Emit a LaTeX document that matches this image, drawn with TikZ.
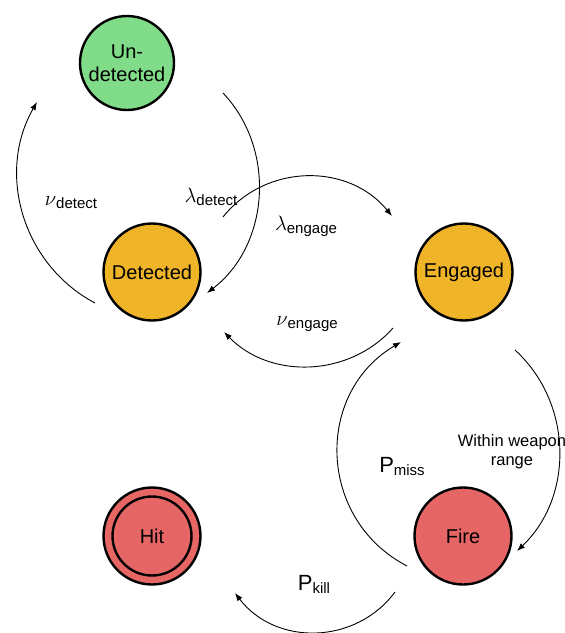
\documentclass[tikz,border=0pt]{standalone}
\usepackage{fontspec}
\setmainfont{Liberation Sans}
\usetikzlibrary{arrows.meta,positioning}

\definecolor{undgreen}{RGB}{128,220,136}
\definecolor{detorange}{RGB}{240,180,40}
\definecolor{firered}{RGB}{230,102,102}

\newcommand{\rate}[2]{{\fontsize{22}{26}\selectfont#1}\raisebox{-3pt}{\fontsize{15}{18}\selectfont#2}}

\begin{document}
\begin{tikzpicture}[x=1pt,y=-1pt,
    state/.style={circle,draw=black,line width=2.4pt,minimum size=97pt,inner sep=0pt,
        font=\fontsize{20}{23}\selectfont,align=center},
    trans/.style={line width=0.9pt,-{Latex[length=8pt,width=6pt]}},
    ratelab/.style={inner sep=0pt}]
\useasboundingbox (0,0) rectangle (565,633);
\node[state,fill=undgreen,minimum size=94pt] (und) at (127,63) {Un-\\detected};
\node[state,fill=detorange] (det) at (152,272) {Detected};
\node[state,fill=detorange] (eng) at (464,272) {Engaged};
\node[state,fill=firered] (hit) at (152,536) {Hit};
\node[state,fill=firered] (fire) at (463,536) {Fire};
\draw[line width=2.4pt] (hit.center) circle[radius=39.5pt];

\coordinate (nd0) at (95,303);   \coordinate (nd1) at (37,102);
\coordinate (ld0) at (223,93);   \coordinate (ld1) at (207,293);
\coordinate (le0) at (223,217);  \coordinate (le1) at (392,216);
\coordinate (ne0) at (393,328);  \coordinate (ne1) at (224,332);
\coordinate (pm0) at (407,566);  \coordinate (pm1) at (401,342);
\coordinate (wr0) at (515,350);  \coordinate (wr1) at (517,551);
\coordinate (pk0) at (395,592);  \coordinate (pk1) at (235,593);

\draw[trans,bend left=46] (nd0) to (nd1);
\draw[trans,bend left=48] (ld0) to (ld1);
\draw[trans,bend left=51,looseness=1.04] (le0) to (le1);
\draw[trans,bend left=47] (ne0) to (ne1);
\draw[trans,bend left=61,looseness=1.15] (pm0) to (pm1);
\draw[trans,bend left=47] (wr0) to (wr1);
\draw[trans,bend left=53,looseness=1.06] (pk0) to (pk1);

\node[ratelab] (lnd) at (71,203) {\rate{$\nu$}{detect}};
\node[ratelab] (lld) at (211,197) {\rate{$\lambda$}{detect}};
\node[ratelab] (lle) at (306,226) {\rate{$\lambda$}{engage}};
\node[ratelab] (lne) at (307,324) {\rate{$\nu$}{engage}};
\node[ratelab] (lpm) at (402,466) {\rate{P}{miss}};
\node[ratelab] (lpk) at (314,584) {\rate{P}{kill}};
\node[font=\fontsize{16.5}{19}\selectfont,align=center,inner sep=0pt] (lwr) at (512,452) {Within weapon\\range};
\end{tikzpicture}
\end{document}
